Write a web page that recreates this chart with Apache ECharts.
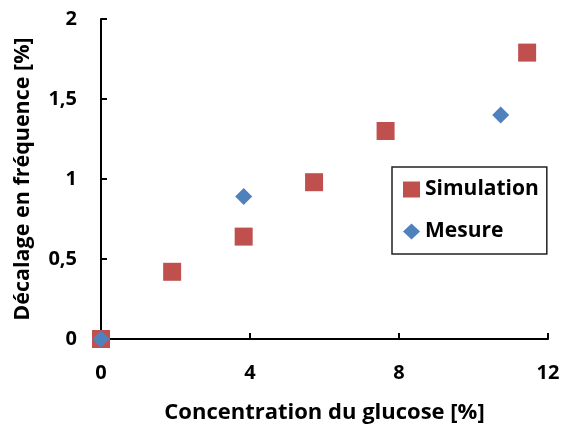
<!DOCTYPE html>
<html>
<head>
<meta charset="utf-8">
<script src="https://cdn.jsdelivr.net/npm/echarts@6/dist/echarts.min.js"></script>
<style>html,body{margin:0;padding:0;background:#fff}#c{width:563px;height:425px}</style>
</head>
<body>
<div id="c"></div>
<script>
const simX = [0, 1.91, 3.83, 5.72, 7.64, 11.44];
const simY = [0, 0.42, 0.64, 0.98, 1.30, 1.79];
const mesX = [0, 3.83, 10.73];
const mesY = [0, 0.89, 1.40];
const xTicks = [0, 4, 8, 12];
const yTicks = [0, 0.5, 1, 1.5, 2];
const seriesNames = ['Simulation', 'Mesure'];
const xTitle = 'Concentration du glucose [%]';
const yTitle = 'Décalage en fréquence [%]';

const font = '"Open Sans", sans-serif';
const chart = echarts.init(document.getElementById('c'), null, {renderer: 'canvas'});
chart.setOption({
  animation: false,
  grid: {left: 101, right: 15, top: 19, bottom: 86, containLabel: false, outerBoundsMode: 'none'},
  legend: {
    orient: 'vertical',
    left: 392, top: 167,
    padding: [12, 8, 12, 11],
    itemGap: 21,
    borderColor: '#222', borderWidth: 1.5,
    itemWidth: 17, itemHeight: 16,
    textStyle: {fontFamily: font, fontSize: 21, fontWeight: 'bold', color: '#000', lineHeight: 21},
    data: [
      {name: seriesNames[0], icon: 'rect'},
      {name: seriesNames[1], icon: 'diamond'}
    ]
  },
  xAxis: {
    type: 'value', min: 0, max: 12, interval: 4,
    name: xTitle, nameLocation: 'middle', nameGap: 63,
    nameTextStyle: {fontFamily: font, fontSize: 22, fontWeight: 'bold', color: '#000'},
    axisLine: {lineStyle: {color: '#000', width: 2}},
    axisTick: {inside: true, length: 6, lineStyle: {color: '#000', width: 2}},
    axisLabel: {fontFamily: font, fontSize: 20, fontWeight: 'bold', color: '#000', margin: 24,
      formatter: v => xTicks.includes(v) ? String(v) : ''},
    splitLine: {show: false}
  },
  yAxis: {
    type: 'value', min: 0, max: 2, interval: 0.5,
    name: yTitle, nameLocation: 'middle', nameGap: 67, nameRotate: 90,
    nameTextStyle: {fontFamily: font, fontSize: 21.5, fontWeight: 'bold', color: '#000'},
    axisLine: {show: true, lineStyle: {color: '#000', width: 2}},
    axisTick: {show: true, inside: true, length: 6, lineStyle: {color: '#000', width: 2}},
    axisLabel: {fontFamily: font, fontSize: 20, fontWeight: 'bold', color: '#000', margin: 24,
      formatter: v => yTicks.includes(v) ? String(v).replace('.', ',') : ''},
    splitLine: {show: false}
  },
  series: [
    {
      name: seriesNames[0], type: 'scatter', symbol: 'rect', symbolSize: 18,
      itemStyle: {color: '#C0504D', opacity: 1},
      data: simX.map((x, i) => [x, simY[i]]),
      z: 2
    },
    {
      name: seriesNames[1], type: 'scatter', symbol: 'diamond', symbolSize: [17, 17],
      itemStyle: {color: '#4F81BD', opacity: 1},
      data: mesX.map((x, i) => [x, mesY[i]]),
      z: 3
    }
  ]
});
</script>
</body>
</html>
